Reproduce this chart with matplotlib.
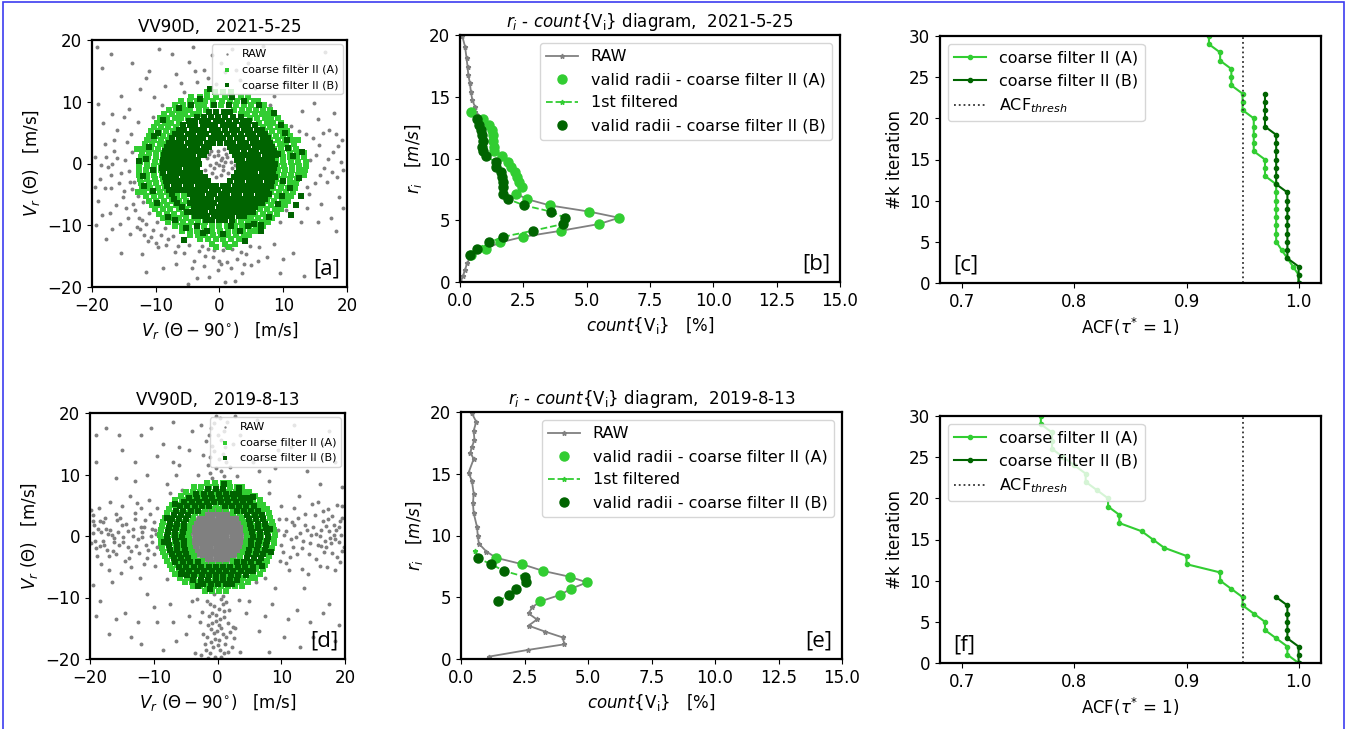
"""VV90D coarse-filter II figure: scatter of Vr, r_i-count diagram and ACF iteration, two dates."""
import numpy as np
import matplotlib
matplotlib.use("Agg")
import matplotlib.pyplot as plt
from matplotlib.patches import Rectangle

LIGHT = "#32cd32"
DARK = "#006400"
GRAY = "#808080"

# ---------------------------------------------------------------- 2021-5-25
# panel a: velocity scatter.
# RAW as (x, y) points; the dense filtered rings as scan rows (y, [x, ...]).
SC21_RAW = [
    (0.2, 0.5), (-0.8, 1.2), (1.0, 1.6), (-1.5, -0.3), (0.5, -1.0), (1.8, 0.2), (-0.3, 2.1),
    (1.4, -1.6), (-1.1, -1.5), (0.0, -0.2), (2.2, 1.3), (-1.9, 0.9), (0.7, 2.4), (-0.5, -2.2),
    (1.9, -0.8), (-2.2, -1.0), (0.9, 0.3), (-0.6, 0.1), (1.2, 1.0), (0.3, -1.8), (-1.3, 2.0),
    (2.5, -0.2), (-0.2, 1.3), (1.6, 2.2), (0.4, 0.9), (-0.9, -0.8), (0.6, -0.4), (-1.6, 1.6),
    (-19.5, 1.0), (-18.8, -2.5), (-18.0, 3.2), (-17.5, -0.5), (-17.0, -4.0), (-16.5, 2.0),
    (-16.0, 5.5), (-15.5, -1.5), (-15.2, -5.5), (-14.8, 0.5), (-14.5, 3.5), (-14.0, -3.0),
    (-13.6, -6.5), (-13.8, 1.8), (-19.0, -6.0), (-18.2, 6.5), (-17.2, -8.0), (-16.2, -6.8),
    (-15.0, 7.5), (-19.6, -3.8), (-16.8, 0.0), (-14.2, -1.2), (-15.8, -3.2), (-17.8, 1.0),
    (-14.6, -7.2), (-16.6, 3.8), (-18.6, -0.2),
    (-13.2, -7.5), (-12.6, -8.8), (-12.0, -6.2), (-11.5, -9.8), (-11.0, -8.0), (-10.4, -10.8),
    (-9.8, -9.5), (-9.2, -11.5), (-8.5, -10.5), (-8.0, -12.2), (-7.3, -11.8), (-12.8, -5.2),
    (-13.0, -10.3), (-11.8, -11.6), (-10.0, -12.8), (-12.2, -9.2), (-10.8, -11.9),
    (-6.5, -13.3), (-5.5, -14.5), (-4.8, -13.2), (-4.0, -15.8), (-3.2, -14.2), (-2.5, -16.6),
    (-1.8, -13.8), (-1.0, -15.2), (-0.2, -17.2), (0.5, -14.0), (1.2, -16.0), (2.0, -13.8),
    (2.8, -15.5), (3.5, -17.8), (4.2, -14.6), (5.0, -16.5), (-3.5, -18.5), (0.8, -19.2),
    (-6.8, -16.2), (6.2, -13.5), (7.5, -15.2), (-8.8, -17.0), (9.5, -17.8), (-5.0, -19.5),
    (2.5, -19.0), (11.5, -14.5), (-15.5, -14.5), (-17.8, -12.2), (-11.5, -17.5), (13.2, -18.2),
    (-2.2, -14.9), (0.0, -15.8), (1.8, -17.0), (-4.3, -16.9), (3.4, -14.3),
    (11.2, 6.0), (12.0, 2.5), (12.6, -1.5), (13.5, 4.8), (14.2, 0.5), (15.0, -3.2), (15.6, 3.0),
    (16.4, -0.8), (17.2, 5.5), (17.8, 1.8), (18.5, -2.2), (19.2, 3.8), (18.8, -5.5),
    (16.0, -6.5), (14.0, -5.0), (19.0, 0.2), (15.5, 7.2), (17.5, -8.8), (13.0, 8.5),
    (19.3, -1.0), (16.8, -3.0), (14.8, 9.8), (18.0, 8.2), (12.8, -9.5), (15.2, 1.4),
    (17.6, -1.4), (14.6, 4.2), (18.2, 4.8),
    (-8.5, 12.5), (-6.8, 14.5), (-5.5, 11.5), (-4.8, 16.5), (-3.5, 13.2), (-2.5, 15.2),
    (-1.2, 17.5), (-0.5, 12.8), (0.8, 14.8), (2.0, 18.5), (3.2, 13.5), (4.5, 16.2), (5.5, 12.2),
    (-7.5, 17.8), (-10.2, 10.8), (-12.5, 12.0), (-15.5, 11.0), (-18.5, 15.5), (-17.0, 17.8),
    (10.5, 13.2), (12.5, 16.0), (8.5, 11.0), (-9.5, 18.5), (1.5, 11.2), (16.5, 18.0), (6.8, 19.0),
    (-11.0, 4.0), (-12.0, 2.0), (-10.5, 7.5), (9.5, -9.5), (10.5, -7.5), (-3.0, -11.0),
    (3.0, -12.0), (8.0, 9.5), (-9.0, 9.5), (-19.2, 18.8), (-11.0, 15.0),
    (-13.8, -4.2), (-14.4, -8.8), (-12.4, -10.6), (-11.2, -12.6), (-9.6, -13.6), (-8.4, -13.2),
    (-7.0, -14.4), (-13.4, -3.0), (-15.6, -9.8), (-14.0, -11.4), (-16.8, -10.6), (-18.4, -8.4),
    (-19.4, -10.0), (-12.2, -14.6), (-17.0, -1.8), (-18.0, -3.9), (-15.0, -4.4), (-16.0, 0.9),
    (-13.9, 4.8), (-12.8, 6.8), (-14.2, 8.8), (-16.8, 8.0), (-19.0, 9.6), (4.8, -13.4),
    (6.0, -15.8), (8.5, -13.0), (10.0, -15.5), (-2.8, -13.4), (-0.8, -14.0), (1.0, -13.6),
    (3.8, -16.2), (-1.6, -18.4), (0.2, -16.3), (13.8, -3.8), (15.8, -1.8), (17.0, 0.8),
    (18.6, 2.8), (16.2, 5.0), (12.4, 5.2), (13.8, -7.2), (15.4, -9.4), (19.4, -7.2),
    (18.2, -11.0), (-3.8, 15.0), (-1.8, 13.8), (-6.0, 13.0), (0.2, 16.2), (2.6, 15.2),
    (-4.2, 18.8), (-11.5, 13.8), (-13.8, 16.2),
]
SC21_A_ROWS = [
    (11.5, [-2.0, -0.7, 0.6, 1.8]),
    (10.8, [-4.4, -3.1, -1.9, -0.5, 0.8, 2.0, 3.4, 4.5]),
    (10.1, [-6.0, -4.7, -3.6, -2.2, -1.0, 0.4, 1.6, 2.8, 4.2, 5.4, 6.1]),
    (9.4, [-7.0, -5.8, -4.7, -3.4, -2.4, -1.0, 0.2, 1.5, 2.6, 3.9, 5.0, 6.2, 7.0]),
    (8.7, [-7.9, -6.8, -5.6, -4.6, -3.2, -2.1, 2.3, 3.5, 4.6, 5.7, 6.9, 7.9]),
    (8.0, [-8.7, -7.5, -6.4, -5.4, -4.1, -3.2, 3.3, 4.3, 5.5, 6.6, 7.6, 8.6]),
    (7.3, [-9.3, -8.2, -7.0, -6.0, -4.9, 4.8, 5.9, 7.1, 8.1, 9.2]),
    (6.6, [-9.8, -8.6, -7.6, -6.3, 6.2, 7.4, 8.4, 9.7]),
    (5.9, [-10.3, -9.2, -8.0, -6.9, 6.8, 7.9, 9.1, 10.2]),
    (5.2, [-10.7, -9.5, -8.4, -7.3, 7.2, 8.3, 9.5, 10.6]),
    (4.5, [-11.1, -10.0, -8.8, -7.8, 7.7, 8.8, 9.9, 11.0]),
    (3.8, [-11.4, -10.2, -9.1, -8.1, 8.0, 9.2, 10.3, 11.4, 12.3]),
    (3.1, [-11.7, -10.6, -9.4, -8.4, 8.3, 9.5, 10.5, 11.7]),
    (2.4, [-13.0, -12.0, -10.8, -9.6, -8.6, 8.5, 9.7, 10.9, 12.0]),
    (1.7, [-12.2, -11.0, -9.9, -8.8, 8.7, 9.8, 11.0, 12.1, 13.2]),
    (1.0, [-12.3, -11.2, -10.0, -8.9, 8.8, 9.9, 11.1, 12.2, 13.3]),
    (0.3, [-12.5, -11.3, -10.1, -9.0, 8.9, 10.0, 11.2, 12.3, 13.5]),
    (-0.4, [-12.6, -11.4, -10.2, -9.1, 9.0, 10.1, 11.3, 12.4, 13.6]),
    (-1.1, [-12.7, -11.5, -10.3, -9.1, 9.1, 10.2, 11.3, 12.5, 13.4]),
    (-1.8, [-12.6, -11.4, -10.2, -9.0, 9.0, 10.1, 11.2, 12.3, 13.2]),
    (-2.5, [-12.5, -11.3, -10.1, -8.9, 8.9, 10.0, 11.1, 12.2]),
    (-3.2, [-12.3, -11.1, -9.9, -8.7, 8.7, 9.8, 11.0, 12.0]),
    (-3.9, [-12.1, -10.9, -9.7, -8.5, 8.4, 9.6, 10.8, 11.8]),
    (-4.6, [-12.8, -11.8, -10.6, -9.4, -8.2, -7.0, 8.1, 9.3, 10.5, 11.5]),
    (-5.3, [-11.5, -10.3, -9.1, -7.9, -6.7, -5.6, 7.8, 9.0, 10.2, 11.2]),
    (-6.0, [-11.1, -9.9, -8.7, -7.5, -6.3, -5.2, 7.4, 8.6, 9.8, 10.8]),
    (-6.7, [-10.6, -9.4, -8.2, -6.9, -5.8, -4.7, 6.9, 8.1, 9.3, 10.3]),
    (-7.4, [-10.1, -8.9, -7.7, -6.4, -5.2, 6.3, 7.5, 8.7, 9.7]),
    (-8.1, [-9.5, -8.3, -7.1, -5.8, 5.6, 6.8, 8.0, 9.0]),
    (-8.8, [-8.8, -7.6, -6.4, -5.2, -4.0, 4.1, 5.0, 6.1, 7.3, 8.3]),
    (-9.5, [-8.0, -6.9, -5.7, -4.5, -3.3, -2.2, 2.3, 3.4, 4.5, 5.6, 6.7, 7.6]),
    (-10.2, [-7.0, -5.9, -4.8, -3.6, -2.4, -1.2, 0.0, 1.2, 2.4, 3.6, 4.7, 5.8, 6.8]),
    (-10.9, [-5.9, -4.7, -3.5, -2.3, -1.1, 0.1, 1.3, 2.5, 3.7, 4.8, 5.7]),
    (-11.6, [-4.6, -3.4, -2.2, -1.0, 0.2, 1.4, 2.6, 3.8, 4.6]),
    (-12.3, [-3.0, -1.8, -0.6, 0.6, 1.8, 3.0]),
    (-13.0, [-1.2, 0.8, 2.5]),
    (-13.5, [-0.5, 1.5]),
]
SC21_B_ROWS = [
    (8.3, [-1.6, -0.5, 0.7, 1.7]),
    (7.6, [-3.6, -2.5, -1.3, -0.2, 0.9, 2.1, 3.3]),
    (6.9, [-4.8, -3.9, -2.7, -1.8, -0.6, 0.4, 1.5, 2.6, 3.7, 4.7]),
    (6.2, [-5.7, -4.6, -3.8, -2.6, -1.7, -0.7, 0.5, 1.4, 2.3, 3.5, 4.4, 5.5]),
    (5.5, [-6.4, -5.5, -4.3, -3.4, -2.4, -1.2, -0.3, 0.8, 1.9, 2.8, 3.9, 4.8, 5.9, 6.6]),
    (4.8, [-7.0, -6.1, -5.0, -4.1, -3.0, -2.1, -0.9, 0.1, 1.2, 2.2, 3.3, 4.4, 5.3, 6.4, 7.2]),
    (4.1, [-7.5, -6.4, -5.6, -4.5, -3.5, -2.6, -1.4, -0.4, 0.6, 1.7, 2.7, 3.6, 4.8, 5.7, 6.8,
           7.6]),
    (3.4, [-7.9, -7.0, -6.1, -5.0, -4.0, -3.1, -2.0, -1.0, 0.1, 1.1, 2.1, 3.2, 4.2, 5.2, 6.2,
           7.1, 8.0]),
    (2.7, [-8.3, -7.3, -6.4, -5.5, -4.4, -3.5, -2.5, -1.6, 1.7, 2.6, 3.6, 4.5, 5.6, 6.5, 7.5,
           8.3]),
    (2.0, [-8.5, -7.6, -6.6, -5.7, -4.8, -3.8, -2.9, -2.1, 2.0, 2.8, 3.9, 4.9, 5.8, 6.8, 7.7,
           8.6]),
    (1.3, [-8.7, -7.8, -6.9, -5.9, -5.0, -4.1, -3.1, -2.4, 2.4, 3.3, 4.3, 5.2, 6.1, 7.1, 8.0, 8.8]),
    (0.6, [-8.9, -8.0, -7.1, -6.2, -5.2, -4.3, -3.4, 2.8, 3.6, 4.6, 5.5, 6.5, 7.4, 8.3]),
    (-0.1, [-8.8, -7.9, -7.0, -6.0, -5.1, -4.2, -3.2, 3.1, 4.0, 4.9, 5.9, 6.8, 7.7, 8.7]),
    (-0.8, [-9.0, -8.1, -7.2, -6.3, -5.3, -4.4, -3.5, 3.0, 3.9, 4.8, 5.8, 6.7, 7.6, 8.5]),
    (-1.5, [-8.8, -7.8, -6.8, -5.9, -5.0, -4.0, -3.1, 2.8, 3.7, 4.7, 5.6, 6.6, 7.5, 8.4]),
    (-2.2, [-8.6, -7.7, -6.8, -5.8, -4.9, -4.0, -3.0, -2.3, 2.3, 3.2, 4.2, 5.1, 6.0, 7.0, 7.9,
            8.7]),
    (-2.9, [-8.4, -7.5, -6.5, -5.6, -4.6, -3.7, -2.8, -1.8, 1.7, 2.7, 3.6, 4.6, 5.5, 6.4, 7.4,
            8.3]),
    (-3.6, [-8.2, -7.2, -6.3, -5.3, -4.4, -3.4, -2.5, -1.5, -0.5, 0.5, 1.4, 2.4, 3.4, 4.3, 5.3,
            6.2, 7.2, 8.1]),
    (-4.3, [-7.9, -7.0, -6.0, -5.1, -4.1, -3.2, -2.2, -1.2, -0.2, 0.8, 1.8, 2.7, 3.7, 4.6, 5.6,
            6.5, 7.5]),
    (-5.0, [-7.5, -4.6, -3.7, -2.7, -1.7, -0.8, 0.3, 1.2, 2.2, 3.1, 4.1, 5.0, 6.0, 6.9, 7.7]),
    (-5.7, [-7.1, -4.2, -3.2, -2.3, -1.3, -0.3, 0.7, 1.6, 2.6, 3.5, 4.5, 5.4, 6.4, 7.2]),
    (-6.4, [-6.6, -4.7, -3.7, -2.8, -1.8, -0.8, 0.2, 1.1, 2.1, 3.0, 4.0, 4.9, 5.9, 6.7]),
    (-7.1, [-5.9, -4.0, -3.0, -2.1, -1.1, -0.1, 0.9, 1.8, 2.8, 3.7, 4.7, 5.6]),
    (-7.8, [-5.1, -4.1, -3.2, -2.2, -1.2, -0.3, 0.7, 1.6, 2.6, 3.5, 4.5, 5.2]),
    (-8.5, [-3.9, -2.9, -1.9, -0.9, 0.1, 1.0, 2.0, 3.0, 3.9]),
    (-9.2, [-2.1, -1.1, -0.1, 0.9, 2.0]),
    (-10.2, [-3.5, 1.8, 4.5]),
    (-11.0, [-2.0, 6.5]),
    (9.5, [-0.8, 1.5, -4.5]),
    (10.8, [2.0]),
    (12.0, [-1.5]),
]
SC21_B_OUTER = [
    (9.2, 1.5), (10.8, 2.5), (9.2, -6.5), (11.0, -4.0), (12.8, -5.2), (-10.5, -4.5),
    (-11.5, 0.8), (-12.0, -2.0), (-9.6, 5.0), (10.2, 5.0), (-7.0, -9.2), (6.5, -10.0),
    (10.0, -2.8), (11.6, 1.2), (12.4, -2.4), (10.6, 3.8), (9.6, 6.2), (8.6, 8.2), (6.2, 9.4),
    (3.8, 10.2), (-3.0, 10.4), (-6.4, 9.0), (-8.8, 7.0), (-10.2, 4.4), (-11.0, 2.6),
    (-10.4, -1.0), (-11.8, -3.6), (-9.8, -6.4), (-8.0, -8.6), (-5.2, -10.4), (-2.6, -11.2),
    (0.6, -11.4), (3.2, -11.0), (5.4, -9.8), (7.8, -8.6), (9.8, -5.2), (12.0, -6.8), (13.0, 1.8),
    (-12.6, 0.4), (-5.6, -12.4), (4.0, -12.6), (11.2, -8.4),
]

# panel b: r_i - count{V_i} diagram
R21_RAW = [0.0, 0.5, 1.0, 1.5, 2.2, 2.7, 3.2, 3.65, 4.15, 4.7, 5.2, 5.7, 6.2, 6.7, 7.15, 7.7,
           8.1, 8.5, 8.9, 9.3, 9.7, 10.2, 10.6, 10.95, 11.4, 11.9, 12.3, 12.7, 13.2, 13.8, 14.2,
           14.7, 15.4, 16.1, 16.75, 17.4, 18.1, 19.05, 19.9]
C21_RAW = [0.02, 0.12, 0.2, 0.28, 0.45, 1.03, 1.58, 2.47, 3.99, 5.5, 6.28, 5.1, 3.55, 2.66,
           2.21, 2.43, 2.34, 2.24, 2.17, 2.0, 1.91, 1.64, 1.36, 1.34, 1.32, 1.32, 1.28, 1.16, 0.92,
           0.6, 0.59, 0.49, 0.43, 0.39, 0.33, 0.3, 0.26, 0.2, 0.09]
R21 = [2.2, 2.7, 3.2, 3.65, 4.15, 4.7, 5.2, 5.7, 6.2, 6.7, 7.15, 7.7, 8.1, 8.5, 8.9, 9.3, 9.7,
       10.2, 10.6, 10.95, 11.4, 11.9, 12.3, 12.7, 13.2, 13.8]
C21_A = [0.45, 1.03, 1.58, 2.47, 3.99, 5.5, 6.28, 5.1, 3.55, 2.66, 2.21, 2.43, 2.34, 2.24, 2.17,
         2.0, 1.91, 1.64, 1.36, 1.34, 1.32, 1.32, 1.28, 1.16, 0.92, 0.45]
C21_B = [0.39, 0.66, 1.16, 1.68, 2.87, 4.08, 4.14, 3.59, 2.54, 1.91, 1.71, 1.71, 1.68, 1.64,
         1.6, 1.42, 1.42, 1.01, 0.92, 0.86, 0.89, 0.85, 0.82, 0.76, 0.66, np.nan]
C21_FIRST = [0.39, 0.66, 1.16, 1.68, 2.87, 4.08, 4.14, 3.59, 2.54, 1.91, 1.71, 1.71, 1.68, 1.64,
             1.6, 1.42, 1.42, 1.01, 0.92, 0.86, 0.89, 0.85, 0.82, 0.76, 0.66, 0.5]

# panel c: ACF per iteration
ACF21_A = [1.0, 1.0, 0.995, 0.99, 0.985, 0.98, 0.98, 0.98, 0.98, 0.98, 0.98, 0.98, 0.98, 0.97,
           0.97, 0.97, 0.96, 0.96, 0.96, 0.96, 0.96, 0.95, 0.95, 0.95, 0.94, 0.94, 0.94, 0.93,
           0.93, 0.92, 0.92]
ACF21_B = [1.0, 1.0, 1.0, 0.99, 0.99, 0.99, 0.99, 0.99, 0.99, 0.99, 0.99, 0.99, 0.98, 0.98,
           0.98, 0.98, 0.98, 0.98, 0.98, 0.97, 0.97, 0.97, 0.97, 0.97]

# ---------------------------------------------------------------- 2019-8-13
SC19_RAW_CORE_ROWS = [
    (4.2, [-1.1, -0.3, 0.5, 1.2]),
    (3.6, [-2.2, -1.5, -0.7, 0.1, 0.9, 1.6, 2.3]),
    (3.0, [-2.9, -2.2, -1.5, -0.8, 0.0, 0.7, 1.4, 2.1, 2.9]),
    (2.4, [-3.5, -2.8, -2.0, -1.3, -0.6, 0.2, 0.9, 1.6, 2.3, 3.0, 3.6]),
    (1.8, [-3.9, -3.2, -2.4, -1.7, -1.0, -0.2, 0.5, 1.2, 1.9, 2.7, 3.4, 4.0]),
    (1.2, [-4.1, -3.4, -2.7, -1.9, -1.2, -0.5, 0.3, 1.0, 1.7, 2.4, 3.1, 3.8, 4.2]),
    (0.6, [-4.3, -3.6, -2.8, -2.1, -1.4, -0.6, 0.1, 0.8, 1.5, 2.2, 2.9, 3.6, 4.3]),
    (0.0, [-4.4, -3.6, -2.9, -2.2, -1.5, -0.7, 0.0, 0.7, 1.4, 2.2, 2.9, 3.6, 4.4]),
    (-0.6, [-4.3, -3.6, -2.8, -2.1, -1.4, -0.6, 0.1, 0.8, 1.5, 2.2, 2.9, 3.6, 4.3]),
    (-1.2, [-4.2, -3.5, -2.7, -2.0, -1.3, -0.5, 0.2, 0.9, 1.6, 2.4, 3.1, 3.8, 4.2]),
    (-1.8, [-4.0, -3.3, -2.5, -1.8, -1.1, -0.3, 0.4, 1.1, 1.8, 2.6, 3.3, 4.0]),
    (-2.4, [-3.7, -3.0, -2.3, -1.5, -0.8, -0.1, 0.6, 1.4, 2.1, 2.8, 3.6]),
    (-3.0, [-3.2, -2.5, -1.7, -1.0, -0.3, 0.5, 1.2, 1.9, 2.6, 3.2]),
    (-3.6, [-2.5, -1.8, -1.1, -0.3, 0.4, 1.1, 1.8, 2.5]),
    (-4.2, [-1.5, -0.8, 0.0, 0.7, 1.4]),
]
SC19_RAW = [
    (-19.5, 0.5), (-19.0, -2.0), (-18.5, 2.5), (-18.0, -0.8), (-17.5, 1.2), (-17.0, -3.2),
    (-16.5, 0.2), (-16.0, 3.5), (-15.5, -1.5), (-15.0, 1.8), (-14.5, -4.0), (-14.0, 0.8),
    (-13.5, -2.5), (-13.0, 2.8), (-12.5, -0.5), (-12.0, 4.5), (-11.5, 1.5), (-11.0, -3.5),
    (-10.5, 0.0), (-10.0, 2.2), (-9.5, -1.8), (-19.8, 4.2), (-18.2, -4.5), (-16.8, 5.5),
    (-15.2, -6.0), (-13.8, 6.5), (-12.2, -6.8), (-10.8, 5.8), (-17.8, -1.5), (-14.8, -0.2),
    (-19.2, -0.8), (-18.8, 1.2), (-17.2, 0.4), (-16.2, -1.0), (-15.6, 0.6), (-13.2, 0.0),
    (-12.8, -1.6), (-11.8, 0.6), (-10.2, -0.9), (-9.8, 1.0), (-17.6, 3.0), (-14.0, -1.8),
    (-16.4, -2.4), (-18.4, -1.6), (-12.0, 1.4), (-19.6, 2.4), (-11.2, -1.4), (-15.8, 2.6),
    (-19.8, -1.2), (-19.3, 1.8), (-18.9, -3.3), (-18.3, 0.6), (-17.9, 2.2), (-17.3, -2.2),
    (-16.9, 1.0), (-16.3, -0.4), (-15.9, -2.9), (-15.3, 3.0), (-14.9, -1.0), (-14.3, 2.0),
    (-13.9, -3.6), (-13.3, 1.2), (-12.9, 3.8), (-12.3, -2.8), (-11.9, -0.2), (-11.3, 2.6),
    (-10.9, -2.2), (-10.3, 1.2), (-9.9, -3.0), (-19.5, 3.4), (-18.6, 4.6), (-17.0, -5.5),
    (-15.0, 4.8), (-13.6, -5.0), (-12.6, 5.4), (-11.6, -4.6), (-10.6, 3.6), (-9.6, 0.4),
    (9.5, 1.0), (10.0, -1.5), (10.8, 2.8), (11.5, -0.5), (12.0, 1.8), (12.5, -3.0), (13.0, 0.5),
    (13.8, 3.5), (14.5, -1.2), (15.0, 1.5), (15.5, -3.8), (16.0, 0.0), (16.5, 2.5), (17.0, -1.8),
    (17.5, 0.8), (18.0, 3.2), (18.5, -0.5), (19.0, 1.5), (19.5, -2.5), (18.8, 5.0), (17.2, -5.0),
    (15.8, 5.5), (14.2, -6.2), (12.8, 6.5), (11.2, -5.5), (19.2, -4.2), (16.8, -0.8), (18.2, 0.2),
    (17.8, -1.2), (18.6, 1.0), (19.4, 0.2), (17.0, 1.6), (16.2, -1.6), (19.0, -1.0), (18.0, -2.8),
    (15.4, 0.4), (10.4, 0.2), (11.8, -1.8), (13.4, -0.8), (14.0, 1.0), (19.6, 3.0), (16.6, 4.0),
    (19.8, -1.8), (19.2, 2.4), (18.7, -3.4), (18.3, 1.8), (17.7, -0.4), (17.3, 2.8),
    (16.7, -2.6), (16.3, 1.0), (15.7, -1.4), (15.3, 3.4), (14.7, 0.2), (14.3, -3.0), (13.7, 1.8),
    (13.3, -2.0), (12.7, 3.0), (12.3, -0.2), (11.7, 2.2), (11.3, -3.4), (10.7, 0.8),
    (10.3, -2.6), (9.7, 2.8), (19.6, 4.8), (18.4, -5.6), (17.4, 4.4), (16.0, -4.8), (14.8, 5.2),
    (13.2, -5.4), (12.0, 4.6), (10.8, -4.4),
    (-0.5, -9.5), (0.5, -10.2), (-1.2, -11.0), (0.2, -11.8), (-0.8, -12.5), (1.0, -13.2),
    (-0.3, -13.8), (-1.5, -14.5), (0.6, -15.0), (-0.6, -15.8), (1.4, -16.5), (-1.0, -17.2),
    (0.0, -17.8), (-1.8, -18.5), (1.0, -19.0), (-0.4, -19.6), (1.8, -12.0), (-2.2, -16.0),
    (2.2, -18.0), (-2.6, -19.4), (0.8, -11.0), (-0.2, -12.9), (0.2, -14.4), (-1.0, -15.1),
    (0.9, -16.0), (-0.4, -16.7), (1.2, -17.6), (0.4, -18.5), (-1.2, -19.1), (0.8, -9.8),
    (-1.6, -10.5), (1.4, -10.8), (-0.6, -11.4), (1.0, -12.2), (-1.4, -13.0), (0.4, -13.5),
    (-0.9, -14.1), (1.6, -14.2), (-0.1, -15.4), (1.9, -15.6), (-1.6, -16.4), (0.3, -16.9),
    (-0.7, -18.1), (1.7, -18.8), (-1.5, -19.8), (0.5, -19.6), (2.4, -14.8), (-2.4, -12.4),
    (2.6, -16.6), (-2.0, -17.6),
    (-0.8, 9.5), (0.5, 10.5), (-1.5, 11.5), (0.2, 12.5), (-0.5, 13.8), (1.2, 14.5), (-1.8, 15.5),
    (0.0, 16.5), (-1.0, 17.5), (1.5, 18.5), (-0.2, 19.5), (2.0, 11.2), (-1.2, 10.2),
    (1.0, 9.8), (-0.2, 11.0), (1.4, 12.0), (-1.2, 12.8), (0.8, 13.4), (-0.8, 14.6), (0.6, 15.6),
    (-1.4, 16.4), (1.0, 17.0), (-0.6, 18.4), (0.4, 19.2), (-2.2, 13.2), (2.4, 15.0),
    (-2.6, 18.0), (2.8, 19.5),
    (-17.5, 17.5), (-15.0, 14.0), (-12.0, 16.5), (-9.5, 13.0), (-7.0, 18.5), (-6.0, 11.5),
    (-11.0, 10.0), (-16.0, 9.5), (-19.0, 12.0), (-8.0, 8.5), (5.5, 12.0), (7.0, 15.5), (9.0, 11.0),
    (11.5, 14.5), (14.0, 10.5), (16.5, 15.0), (18.5, 12.0), (8.0, 9.0), (-17.0, -16.0),
    (-14.5, -12.5), (-12.0, -17.5), (-9.5, -14.0), (-7.5, -11.0), (-6.5, -17.0), (-4.5, -13.0),
    (-18.5, -10.5), (-11.0, -9.5), (4.5, -12.5), (6.5, -15.5), (8.5, -11.0), (10.5, -16.5),
    (12.5, -12.0), (15.0, -16.5), (17.5, -11.0), (18.5, -17.0), (9.0, -8.5), (-3.5, -19.0),
    (3.5, -18.8), (-4.0, 17.0), (3.5, 16.5), (-19.5, -8.0), (19.5, 8.0), (-5.5, 7.5), (6.0, -7.5),
    (-3.0, 10.0), (3.0, 9.8), (-9.5, 4.5), (10.0, 4.8), (-9.8, -4.8), (9.8, -4.0), (-3.2, -10.2),
    (3.4, -10.4), (-13.0, 9.0), (13.5, -8.5), (-6.0, 14.5), (6.2, 18.8), (-16.5, -7.5),
    (16.0, 8.5), (-2.8, -14.0), (2.8, -15.0), (-8.5, -18.5), (8.0, -18.8), (-19.0, 16.5),
    (-15.5, 16.5), (-13.0, 12.0), (-10.5, 17.5), (-8.5, 15.0), (-4.5, 14.0), (-7.0, 12.0),
    (4.0, 13.0), (6.5, 10.5), (9.5, 14.0), (12.0, 18.0), (15.0, 12.5), (17.5, 17.0),
    (-16.0, -13.5), (-13.5, -16.5), (-10.0, -11.5), (-7.0, -14.0), (-5.0, -16.0), (-4.0, -10.5),
    (5.0, -10.5), (7.5, -13.0), (11.0, -13.5), (14.5, -14.0), (16.5, -12.5), (19.0, -14.5),
    (-19.0, -13.0), (13.0, -18.0), (-12.5, -14.0), (-8.0, -7.0), (8.0, 7.0), (-7.5, 7.0),
    (7.5, -6.8), (-6.5, 10.0), (7.0, 12.5),
]
SC19_A_ROWS = [
    (8.6, [-1.6, -0.4, 0.8, 1.8]),
    (7.9, [-3.7, -2.6, -1.4, -0.3, 0.9, 2.0, 3.1, 3.8]),
    (7.2, [-4.9, -3.8, -2.7, -1.6, -0.4, 0.7, 1.8, 2.9, 4.0, 5.0]),
    (6.5, [-5.8, -4.7, -3.6, -2.5, -1.3, -0.2, 0.9, 2.0, 3.1, 4.2, 5.2, 5.9]),
    (5.8, [-6.6, -5.5, -4.4, -3.3, -2.1, -1.0, 0.1, 1.2, 2.3, 3.4, 4.5, 5.6, 6.6]),
    (5.1, [-7.1, -6.0, -4.9, -3.8, -2.6, -1.5, -0.3, 0.8, 1.9, 3.0, 4.1, 5.2, 6.3, 7.2]),
    (4.4, [-7.6, -6.5, -5.4, -4.3, -3.2, -2.0, -0.9, 0.2, 1.3, 2.4, 3.5, 4.6, 5.7, 6.8, 7.7]),
    (3.7, [-8.0, -6.9, -5.8, -4.7, -3.6, -2.5, 2.5, 3.6, 4.7, 5.8, 6.9, 8.0]),
    (3.0, [-8.3, -7.2, -6.1, -5.0, -3.8, 3.8, 4.9, 6.0, 7.1, 8.3]),
    (2.3, [-8.6, -7.5, -6.4, -5.3, -4.1, 4.1, 5.2, 6.3, 7.4, 8.5]),
    (1.6, [-8.7, -7.6, -6.5, -5.4, -4.4, 4.4, 5.5, 6.6, 7.7, 8.7]),
    (0.9, [-8.9, -7.8, -6.7, -5.6, -4.5, 4.5, 5.6, 6.7, 7.8, 8.9]),
    (0.2, [-9.0, -7.9, -6.8, -5.7, -4.6, 4.6, 5.7, 6.8, 7.9, 9.0]),
    (-0.5, [-8.9, -7.8, -6.7, -5.6, -4.5, 4.6, 5.7, 6.8, 7.9, 8.9]),
    (-1.2, [-8.8, -7.7, -6.6, -5.5, -4.4, 4.4, 5.5, 6.6, 7.7, 8.8]),
    (-1.9, [-8.7, -7.6, -6.5, -5.4, -4.3, 4.3, 5.4, 6.5, 7.6, 8.6]),
    (-2.6, [-8.5, -7.4, -6.3, -5.2, -4.0, 4.0, 5.1, 6.2, 7.3, 8.4]),
    (-3.3, [-8.2, -7.1, -6.0, -4.9, -3.7, 3.6, 4.7, 5.8, 6.9, 8.1]),
    (-4.0, [-7.9, -6.8, -5.7, -4.6, -3.4, -2.4, 2.4, 3.5, 4.6, 5.7, 6.8, 7.8]),
    (-4.7, [-7.5, -6.4, -5.3, -4.2, -3.1, -2.0, -0.9, 0.2, 1.3, 2.4, 3.5, 4.6, 5.7, 6.7, 7.5]),
    (-5.4, [-7.2, -6.1, -5.0, -3.9, -2.8, -1.7, -0.6, 0.5, 1.6, 2.7, 3.8, 4.9, 6.0, 7.1]),
    (-6.1, [-6.6, -5.5, -4.4, -3.3, -2.2, -1.1, 0.0, 1.1, 2.2, 3.3, 4.4, 5.5, 6.6]),
    (-6.8, [-5.9, -4.8, -3.7, -2.6, -1.5, -0.4, 0.7, 1.8, 2.9, 4.0, 5.1, 5.9]),
    (-7.5, [-5.1, -4.0, -2.9, -1.8, -0.7, 0.4, 1.5, 2.6, 3.7, 4.8]),
    (-8.2, [-3.9, -2.8, -1.7, -0.6, 0.5, 1.6, 2.7, 3.8]),
    (-8.9, [-2.0, -0.9, 0.2, 1.3]),
]
SC19_B_ROWS = [
    (7.6, [-1.5, -0.3, 0.9]),
    (6.9, [-3.3, -2.1, -1.0, 0.2, 1.3, 2.4, 3.4]),
    (6.2, [-4.4, -3.2, -2.0, -0.8, 0.4, 1.5, 2.6, 3.7, 4.6]),
    (5.5, [-5.2, -4.0, -2.9, -1.7, -0.6, 0.6, 1.7, 2.9, 4.0, 5.1]),
    (4.8, [-5.9, -4.8, -3.6, -2.5, -1.3, 1.1, 2.2, 3.4, 4.5, 5.7]),
    (4.1, [-6.5, -5.4, -4.2, -3.1, 3.0, 4.1, 5.2, 6.4]),
    (3.4, [-6.9, -5.8, -4.6, 4.7, 5.9, 7.0]),
    (2.7, [-7.2, -6.1, -5.0, 4.9, 6.0, 7.1]),
    (2.0, [-7.5, -6.3, -5.2, 5.1, 6.3, 7.4]),
    (1.3, [-7.6, -6.5, -5.3, 5.3, 6.4, 7.6]),
    (0.6, [-7.8, -6.6, -5.4, 5.4, 6.6, 7.7]),
    (-0.1, [-7.9, -6.7, -5.5, 5.5, 6.7, 7.9]),
    (-0.8, [-7.7, -6.5, -5.3, 5.3, 6.5, 7.7]),
    (-1.5, [-7.6, -6.4, -5.2, 5.2, 6.4, 7.6]),
    (-2.2, [-7.5, -6.3, -5.1, 5.0, 6.2, 7.4]),
    (-2.9, [-7.2, -6.0, -4.9, 4.8, 6.0, 7.2]),
    (-3.6, [-6.9, -5.8, -4.6, 4.7, 5.8, 6.9]),
    (-4.3, [-6.6, -5.4, -4.3, -3.1, 3.0, 4.2, 5.3, 6.5]),
    (-5.0, [-6.0, -4.9, -3.7, -2.6, -1.4, -0.3, 0.9, 2.0, 3.2, 4.3, 5.5]),
    (-5.7, [-5.5, -4.4, -3.2, -2.1, -0.9, 0.2, 1.4, 2.5, 3.7, 4.8, 5.6]),
    (-6.4, [-4.8, -3.7, -2.5, -1.4, -0.2, 0.9, 2.1, 3.2, 4.4]),
    (-7.1, [-3.8, -2.6, -1.5, -0.3, 0.8, 2.0, 3.1]),
    (-7.8, [-2.2, -1.0, 0.1, 1.3, 2.3]),
]
SC19_B_OUTER = [
    (8.2, 1.2), (-8.4, -1.0), (7.0, -4.8), (-6.6, 5.2), (3.4, 7.8), (-3.0, -8.2), (5.6, 6.4),
    (-5.8, -6.2), (1.0, 8.4), (-1.2, -8.6), (8.4, -2.6), (-8.0, 3.0),
]

# panel e
R19_RAW = [0.19, 0.73, 1.19, 1.75, 2.21, 2.7, 3.2, 3.69, 4.18, 4.66, 5.2, 5.69, 6.2, 6.66, 7.14,
           7.68, 8.19, 8.7, 9.35, 10.0, 10.7, 11.8, 12.6, 13.4, 14.4, 15.1, 16.2, 16.7, 17.2,
           17.7, 18.5, 19.2, 19.9]
C19_RAW = [1.09, 2.62, 4.07, 4.0, 3.32, 2.66, 2.99, 2.66, 2.8, 3.12, 3.91, 4.33, 4.96, 4.28,
           3.22, 2.4, 1.39, 1.0, 0.7, 0.66, 0.63, 0.5, 0.47, 0.5, 0.43, 0.3, 0.5, 0.37, 0.43, 0.53,
           0.5, 0.6, 0.43]
R19 = [4.66, 5.2, 5.69, 6.2, 6.66, 7.14, 7.68, 8.15, 8.76]
C19_A = [3.12, 3.91, 4.33, 4.96, 4.28, 3.22, 2.4, 1.39, np.nan]
C19_B = [1.46, 1.9, 2.18, 2.57, 2.51, 1.68, 1.19, 0.66, np.nan]
C19_FIRST = [1.46, 1.9, 2.18, 2.57, 2.51, 1.68, 1.19, 0.66, 0.55]

# panel f
ACF19_A = [1.0, 0.99, 0.99, 0.98, 0.97, 0.97, 0.96, 0.95, 0.95, 0.94, 0.93, 0.93, 0.90, 0.90,
           0.88, 0.87, 0.86, 0.84, 0.84, 0.83, 0.83, 0.82, 0.81, 0.81, 0.80, 0.79, 0.78, 0.78,
           0.78, 0.77, 0.77]
ACF19_B = [1.0, 1.0, 1.0, 0.99, 0.99, 0.99, 0.99, 0.99, 0.98]
ACF_THRESH = 0.95

plt.rcParams.update({"font.size": 12, "axes.linewidth": 1.6})

fig = plt.figure(figsize=(13.56, 7.29), dpi=100)
W, H = 1356, 729


def box(l, t, r, b):
    return [l / W, 1 - b / H, (r - l) / W, (b - t) / H]


def rows_xy(rows):
    xs = [x for y, row in rows for x in row]
    ys = [y for y, row in rows for x in row]
    return np.array(xs), np.array(ys)


def tag(ax, s, left=False):
    ax.text(0.035 if left else 0.975, 0.03, s, transform=ax.transAxes, fontsize=16,
            family="Open Sans", ha="left" if left else "right", va="bottom")


def scatter_panel(ax, raw, a_rows, b_rows, b_extra, title, core_rows=None):
    raw = np.array(raw)
    ax.scatter(raw[:, 0], raw[:, 1], s=8, color=GRAY, lw=0, label="RAW")
    if core_rows is not None:
        cx, cy = rows_xy(core_rows)
        ax.scatter(cx, cy, s=22, color=GRAY, lw=0)
    ax_, ay_ = rows_xy(a_rows)
    ax.scatter(ax_, ay_, s=14, color=LIGHT, lw=0, marker="s", label="coarse filter II (A)")
    bx, by = rows_xy(b_rows)
    be = np.array(b_extra)
    bx = np.concatenate([bx, be[:, 0]]); by = np.concatenate([by, be[:, 1]])
    ax.scatter(bx, by, s=14, color=DARK, lw=0, marker="s", label="coarse filter II (B)")
    ax.set_xlim(-20, 20); ax.set_ylim(-20, 20)
    ax.set_xticks([-20, -10, 0, 10, 20]); ax.set_yticks([-20, -10, 0, 10, 20])
    ax.set_title(title, fontsize=12)
    ax.set_xlabel(r"$V_r\ (\Theta - 90^{\circ})$   [m/s]")
    ax.set_ylabel(r"$V_r\ (\Theta)$   [m/s]")
    ax.legend(loc="upper right", fontsize=8, framealpha=0.8, handletextpad=0.3,
              markerscale=0.6, borderaxespad=0.4)


def radii_panel(ax, r_raw, c_raw, r, ca, cf, cb, date):
    ax.plot(c_raw, r_raw, color=GRAY, lw=1.3, marker="*", ms=3.5, label="RAW")
    ax.plot(ca, r, ls="none", marker="o", ms=6.5, color=LIGHT,
            label="valid radii - coarse filter II (A)")
    ax.plot(cf, r, color=LIGHT, ls="--", lw=1.3, marker="*", ms=3.5, label="1st filtered")
    ax.plot(cb, r, ls="none", marker="o", ms=6.5, color=DARK,
            label="valid radii - coarse filter II (B)")
    ax.set_xlim(0, 15); ax.set_ylim(0, 20)
    ax.set_xticks([0, 2.5, 5, 7.5, 10, 12.5, 15])
    ax.set_xticklabels(["0.0", "2.5", "5.0", "7.5", "10.0", "12.5", "15.0"])
    ax.set_yticks([0, 5, 10, 15, 20])
    ax.set_title(r"$r_i$ - $count\{\mathrm{V_i}\}$ diagram,  " + date, fontsize=12)
    ax.set_xlabel(r"$count\{\mathrm{V_i}\}$   [%]")
    ax.set_ylabel(r"$r_i$   $[m/s]$")
    ax.legend(loc="upper right", fontsize=11.5, framealpha=0.8)


def acf_panel(ax, acf_a, acf_b):
    ax.plot(acf_a, range(len(acf_a)), color=LIGHT, lw=1.5, marker=".", ms=6,
            label="coarse filter II (A)")
    ax.plot(acf_b, range(len(acf_b)), color=DARK, lw=1.5, marker=".", ms=6,
            label="coarse filter II (B)")
    ax.axvline(ACF_THRESH, color="#333333", ls=":", lw=1.3, label=r"ACF$_{thresh}$")
    ax.set_xlim(0.68, 1.02); ax.set_ylim(0, 30)
    ax.set_xticks([0.7, 0.8, 0.9, 1.0]); ax.set_yticks([0, 5, 10, 15, 20, 25, 30])
    ax.set_xlabel(r"ACF($\tau^{*}$ = 1)")
    ax.set_ylabel("#k iteration")
    ax.legend(loc="upper left", fontsize=11.5, framealpha=0.8)


ax_a = fig.add_axes(box(92, 40, 347, 287))
ax_b = fig.add_axes(box(460, 35, 840, 282))
ax_c = fig.add_axes(box(940, 36, 1321, 283))
ax_d = fig.add_axes(box(90, 413, 345, 659))
ax_e = fig.add_axes(box(461, 412, 842, 659))
ax_f = fig.add_axes(box(940, 416, 1321, 663))

scatter_panel(ax_a, SC21_RAW, SC21_A_ROWS, SC21_B_ROWS, SC21_B_OUTER, "VV90D,   2021-5-25")
radii_panel(ax_b, R21_RAW, C21_RAW, R21, C21_A, C21_FIRST, C21_B, "2021-5-25")
acf_panel(ax_c, ACF21_A, ACF21_B)
scatter_panel(ax_d, SC19_RAW, SC19_A_ROWS, SC19_B_ROWS, SC19_B_OUTER, "VV90D,   2019-8-13",
              core_rows=SC19_RAW_CORE_ROWS)
radii_panel(ax_e, R19_RAW, C19_RAW, R19, C19_A, C19_FIRST, C19_B, "2019-8-13")
acf_panel(ax_f, ACF19_A, ACF19_B)

for ax, s, left in [(ax_a, "[a]", False), (ax_b, "[b]", False), (ax_c, "[c]", True),
                    (ax_d, "[d]", False), (ax_e, "[e]", False), (ax_f, "[f]", True)]:
    tag(ax, s, left)

# screenshot frame
fig.add_artist(Rectangle((3 / W, -0.01), (1344 - 3) / W, 1.01 - 2 / H, transform=fig.transFigure,
                         fill=False, ec="#3c3cf0", lw=1.2))

fig.savefig("out.png", dpi=100)
